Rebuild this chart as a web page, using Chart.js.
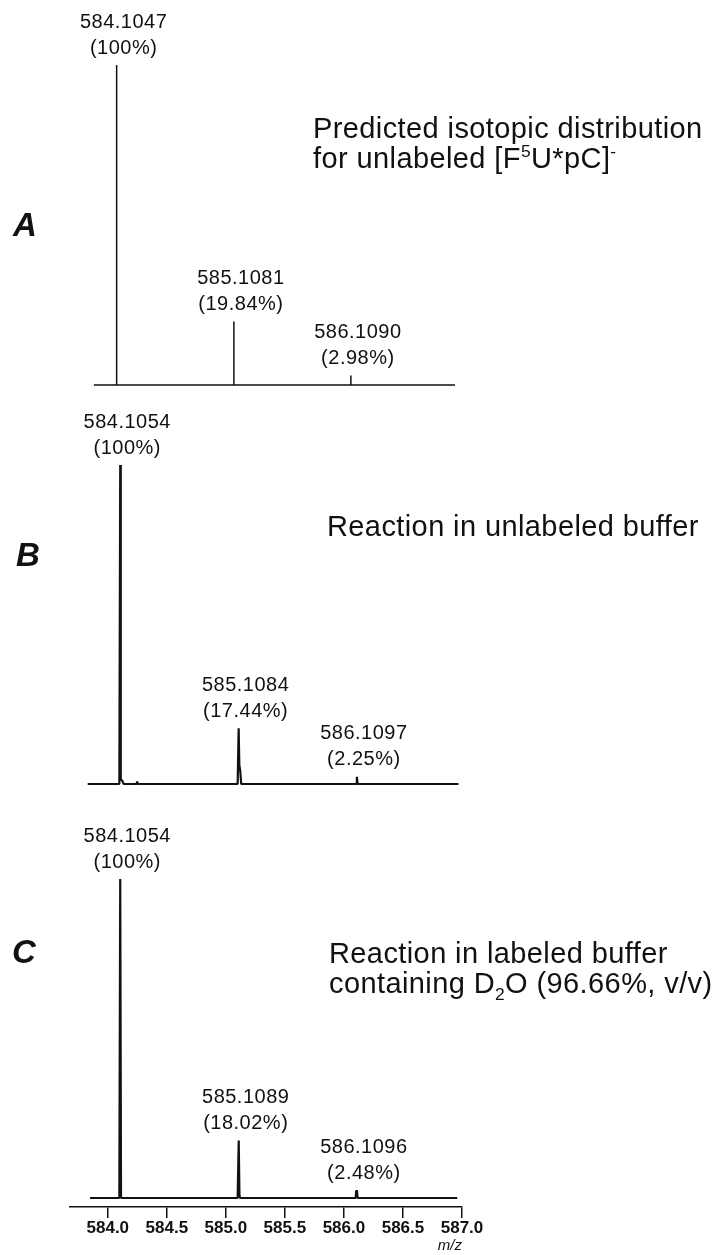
<!DOCTYPE html>
<html>
<head>
<meta charset="utf-8">
<title>Isotopic distribution of [F5U*pC]-</title>
<script src="https://cdn.jsdelivr.net/npm/chart.js@4.4.0/dist/chart.umd.min.js"></script>
<style>
body { margin: 0; background: #fff; }
#page { position: relative; width: 715px; height: 1255px; overflow: hidden; font-family: "Liberation Sans", Arial, sans-serif; color: #111; }
canvas { position: absolute; left: 0; }
.panel { position: absolute; font-weight: bold; font-style: italic; font-size: 33px; line-height: 33px; }
.note { position: absolute; font-size: 29px; line-height: 30px; letter-spacing: 0.4px; white-space: nowrap; }
sup, sub { font-size: 60%; line-height: 0; }
</style>
</head>
<body>
<div id="page">
    <canvas id="chartA" width="715" height="400" style="top:0px"></canvas>
    <canvas id="chartB" width="715" height="420" style="top:400px"></canvas>
    <canvas id="chartC" width="715" height="435" style="top:820px"></canvas>

    <div class="panel" style="left:13px;top:208px">A</div>
    <div class="panel" style="left:16px;top:538px">B</div>
    <div class="panel" style="left:12px;top:935px">C</div>

    <div class="note" style="left:313px;top:113px">Predicted isotopic distribution<br>for unlabeled [F<sup>5</sup>U*pC]<sup>-</sup></div>
    <div class="note" style="left:327px;top:511px">Reaction in unlabeled buffer</div>
    <div class="note" style="left:329px;top:938px">Reaction in labeled buffer<br>containing D<sub>2</sub>O (96.66%, v/v)</div>
</div>

<script>
// m/z axis shared by the three panels
var mzMin = 583.68;
var mzMax = 587.0;
var mzStep = 0.5;

// Panel A: predicted isotopic distribution (sticks)
var predMz = [584.1047, 585.1081, 586.1090];
var predPct = [100, 19.84, 2.98];
var predRange = [583.91, 587.0];

// Panel B: reaction in unlabeled buffer
var unlabMz = [584.1054, 585.1084, 586.1097];
var unlabPct = [100, 17.44, 2.25];
var unlabProfileMz = [583.83, 584.098, 584.1054, 584.110, 584.122, 584.135, 584.24, 584.247, 584.255,
                      585.100, 585.1084, 585.114, 585.122, 585.13, 586.103, 586.1097, 586.116, 586.97];
var unlabProfileInt = [0, 0, 100, 1.5, 1, 0, 0, 0.8, 0,
                       0, 17.44, 6, 4, 0, 0, 2.25, 0, 0];

// Panel C: reaction in labeled buffer (D2O)
var labMz = [584.1054, 585.1089, 586.1096];
var labPct = [100, 18.02, 2.48];
var labProfileMz = [583.85, 584.095, 584.098, 584.1054, 584.112, 585.100, 585.1089, 585.115, 585.12,
                    586.100, 586.103, 586.1096, 586.116, 586.96];
var labProfileInt = [0, 0, 2.5, 100, 0, 0, 18.02, 1, 0,
                     0, 2.2, 2.48, 0, 0];

Chart.defaults.font.family = '"Liberation Sans", Arial, sans-serif';
Chart.defaults.color = '#111';

// Function to build a stick spectrum from peak list
function stickPoints(mz, pct, range) {
    var pts = [{x: range[0], y: 0}];
    for (var i = 0; i < mz.length; i++) {
        pts.push({x: mz[i], y: 0});
        pts.push({x: mz[i], y: pct[i]});
        pts.push({x: mz[i], y: 0});
    }
    pts.push({x: range[1], y: 0});
    return pts;
}

// Function to pair profile arrays into points
function profilePoints(mz, inten) {
    return mz.map(function(v, i) { return {x: v, y: inten[i]}; });
}

// Function to make the plugin that writes m/z and % above each peak
function peakLabelPlugin(mz, pct) {
    return {
        id: 'peakLabels',
        afterDatasetsDraw: function(chart) {
            var ctx = chart.ctx;
            var xs = chart.scales.x;
            var ys = chart.scales.y;
            ctx.save();
            ctx.fillStyle = '#111';
            ctx.font = '20px "Liberation Sans", Arial, sans-serif';
            if ('letterSpacing' in ctx) ctx.letterSpacing = '0.5px';
            ctx.textAlign = 'center';
            ctx.textBaseline = 'middle';
            for (var i = 0; i < mz.length; i++) {
                var px = xs.getPixelForValue(mz[i]) + 7;
                var py = ys.getPixelForValue(pct[i]);
                ctx.fillText(mz[i].toFixed(4), px, py - 43);
                ctx.fillText('(' + pct[i] + '%)', px, py - 17);
            }
            ctx.restore();
        }
    };
}

// Function to create one spectrum panel
function createSpectrum(id, points, lineWidth, padding, yMin, showAxis, plugin) {
    var ctx = document.getElementById(id).getContext('2d');
    return new Chart(ctx, {
        type: 'line',
        data: {
            datasets: [{
                data: points,
                borderColor: '#111',
                borderWidth: lineWidth,
                borderJoinStyle: 'bevel',
                pointRadius: 0,
                tension: 0,
                clip: false
            }]
        },
        options: {
            responsive: false,
            animation: false,
            devicePixelRatio: 1,
            layout: { padding: padding },
            plugins: { legend: { display: false }, tooltip: { enabled: false } },
            scales: {
                x: {
                    type: 'linear',
                    min: mzMin,
                    max: mzMax,
                    display: showAxis,
                    afterFit: function(scale) { if (showAxis) scale.height = 48; },
                    border: { display: true, color: '#111', width: 1.5 },
                    grid: { drawOnChartArea: false, drawTicks: true, tickLength: 11, color: '#111', lineWidth: 1.5 },
                    ticks: {
                        stepSize: mzStep,
                        includeBounds: false,
                        autoSkip: false,
                        maxRotation: 0,
                        padding: 0,
                        color: '#111',
                        font: { size: 17, weight: 'bold' },
                        callback: function(v) { return v.toFixed(1); }
                    },
                    title: {
                        display: true,
                        text: 'm/z',
                        align: 'end',
                        color: '#111',
                        font: { size: 15, style: 'italic' },
                        padding: { top: 0, bottom: 0 }
                    }
                },
                y: { display: false, min: yMin, max: 100 }
            }
        },
        plugins: [plugin]
    });
}

createSpectrum('chartA', stickPoints(predMz, predPct, predRange), 1.5,
    {left: 67, right: 260, top: 65, bottom: 15}, 0, false, peakLabelPlugin(predMz, predPct));

createSpectrum('chartB', profilePoints(unlabProfileMz, unlabProfileInt), 2.2,
    {left: 70, right: 253, top: 65, bottom: 36}, 0, false, peakLabelPlugin(unlabMz, unlabPct));

createSpectrum('chartC', profilePoints(labProfileMz, labProfileInt), 2.2,
    {left: 70, right: 253, top: 59, bottom: 0}, -2.82, true, peakLabelPlugin(labMz, labPct));
</script>
</body>
</html>
